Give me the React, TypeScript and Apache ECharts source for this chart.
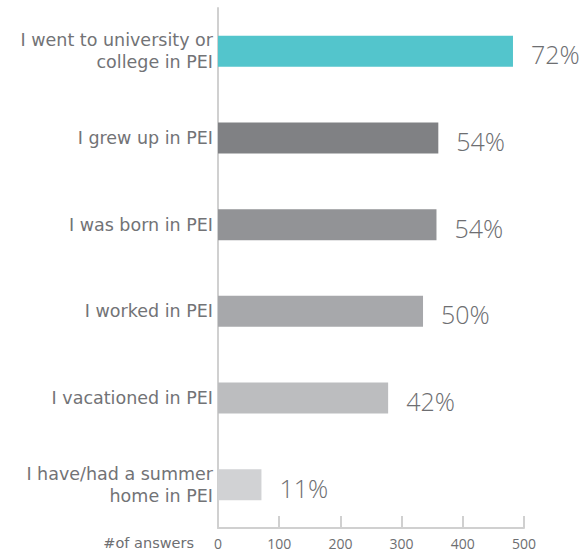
import React, { useEffect, useRef } from "react";
import * as echarts from "echarts";

const categories = [
  "I went to university or\ncollege in PEI",
  "I grew up in PEI",
  "I was born in PEI",
  "I worked in PEI",
  "I vacationed in PEI",
  "I have/had a summer\nhome in PEI",
];
const answers = [482, 360, 357, 335, 278, 71];
const percentLabels = ["72%", "54%", "54%", "50%", "42%", "11%"];
const barColors = ["#53c5cc", "#808184", "#929396", "#a7a8ab", "#bcbdbf", "#d1d2d4"];
const xTicks = [0, 100, 200, 300, 400, 500];
const xAxisTitle = "#of answers";

const FONT = "'Open Sans', 'DejaVu Sans', sans-serif";
const WIDE = "'DejaVu Sans', sans-serif";
const TEXT = "#6d6e71";
const AXIS = "#d0d0d0";

export default function App() {
  const ref = useRef<HTMLDivElement>(null);
  useEffect(() => {
    if (!ref.current) return;
    const chart = echarts.init(ref.current, undefined, { renderer: "svg" });
    chart.setOption({
      animation: false,
      backgroundColor: "#ffffff",
      grid: { left: 218, right: 62, top: 8, bottom: 27, containLabel: false },
      xAxis: {
        type: "value",
        min: xTicks[0],
        max: xTicks[xTicks.length - 1],
        interval: 100,
        splitLine: { show: false },
        axisLine: { show: true, lineStyle: { color: AXIS, width: 2 } },
        axisTick: { show: true, inside: true, length: 12, lineStyle: { color: AXIS, width: 2 } },
        axisLabel: { color: TEXT, fontSize: 14, fontFamily: FONT, margin: 8 },
      },
      yAxis: {
        type: "category",
        inverse: true,
        data: categories,
        axisLine: { show: true, lineStyle: { color: AXIS, width: 2 } },
        axisTick: { show: false },
        axisLabel: {
          color: "#727376",
          fontSize: 17.5,
          fontFamily: WIDE,
          margin: 5,
          lineHeight: 22,
          align: "right",
        },
      },
      graphic: [
        {
          type: "text",
          right: 586 - 194,
          top: 535,
          style: { text: xAxisTitle, fill: TEXT, font: `14.5px ${WIDE}` },
        },
      ],
      series: [
        {
          type: "bar",
          barWidth: 31,
          data: answers.map((v, i) => ({ value: v, itemStyle: { color: barColors[i] } })),
          label: {
            show: true,
            position: "right",
            distance: 18,
            offset: [0, 3],
            color: TEXT,
            fontSize: 25,
            fontFamily: FONT,
            fontWeight: 300,
            formatter: (p: any) => percentLabels[p.dataIndex],
          },
        },
      ],
    });
    return () => chart.dispose();
  }, []);
  return <div ref={ref} style={{ width: 586, height: 555, position: "absolute", left: 0, top: 0 }} />;
}
